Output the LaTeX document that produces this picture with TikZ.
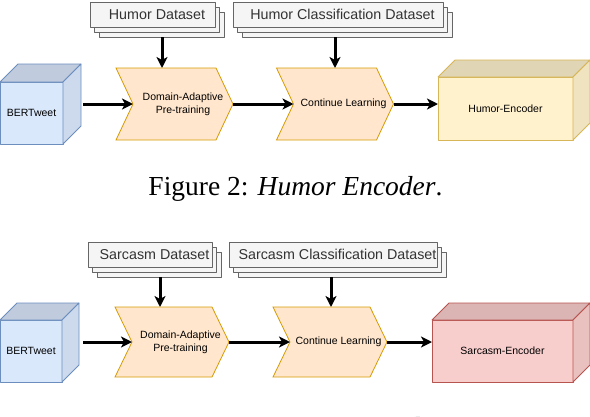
\documentclass[tikz,border=0pt]{standalone}
\usepackage{fontspec}
\setmainfont{Liberation Serif}
\setsansfont{Liberation Sans}
\usetikzlibrary{arrows.meta,positioning,calc,shadows,backgrounds}
\definecolor{dsfill}{HTML}{F5F5F5}
\definecolor{dsline}{HTML}{666666}
\definecolor{dstext}{HTML}{333333}
\definecolor{chfill}{HTML}{FFE6CC}
\definecolor{chline}{HTML}{D79B00}
\definecolor{bfill}{HTML}{DAE8FC}
\definecolor{bline}{HTML}{6C8EBF}
\definecolor{hfill}{HTML}{FFF2CC}
\definecolor{hline}{HTML}{D6B656}
\definecolor{sfill}{HTML}{F8CECC}
\definecolor{sline}{HTML}{B85450}
% chevron outline behind node #1 (node spans notch to tip)
\newcommand{\chevron}[1]{%
  \begin{scope}[on background layer]
    \draw[chline, fill=chfill, line width=0.8pt]
      ($(#1.north west)+(-17,0)$) -- ($(#1.north east)+(-17,0)$) -- (#1.east)
      -- ($(#1.south east)+(-17,0)$) -- ($(#1.south west)+(-17,0)$) -- (#1.west) -- cycle;
  \end{scope}}
% top and side faces of a cuboid node #1, depth #2
\newcommand{\cubefaces}[4]{%
  \draw[#4, fill=#3!88!black, line width=0.8pt] (#1.north west) -- ++(#2,-#2)
    -- ($(#1.north east)+(#2,-#2)$) -- (#1.north east) -- cycle;
  \draw[#4, fill=#3!94!black, line width=0.8pt] (#1.north east) -- ++(#2,-#2)
    -- ($(#1.south east)+(#2,-#2)$) -- (#1.south east) -- cycle;}

\begin{document}
\begin{tikzpicture}[x=1pt, y=-1pt, line join=round,
  dsbox/.style={draw=dsline, fill=dsfill, line width=0.8pt, outer sep=0pt, inner sep=0pt,
    minimum height=25pt, text=dstext, font=\sffamily\fontsize{14.3}{16}\selectfont,
    execute at begin node=\hspace*{9pt},
    copy shadow={shadow xshift=9pt, shadow yshift=-10pt, draw=dsline, fill=dsfill, line width=0.8pt},
    copy shadow={shadow xshift=4.5pt, shadow yshift=-5pt, draw=dsline, fill=dsfill, line width=0.8pt}},
  chev/.style={minimum width=100pt, minimum height=72pt, inner sep=0pt, outer sep=0pt,
    align=center, font=\sffamily\fontsize{10.5}{13}\selectfont},
  cube/.style={line width=0.8pt, inner sep=0pt, outer sep=0pt, font=\sffamily\fontsize{10.5}{13}\selectfont},
  flow/.style={line width=3pt, -{Stealth[length=11pt,width=11pt,inset=3pt]}},
  caption/.style={anchor=base, font=\fontsize{27.5}{30}\selectfont}]
\useasboundingbox (0,0) rectangle (590,416);
\clip (0,0) rectangle (590,416);

% Figure 2: humor encoder
\node[dsbox, minimum width=125pt] (hds) at (152.5,14.5) {Humor Dataset};
\node[dsbox, minimum width=210pt] (hcds) at (338,14.5) {Humor Classification Dataset};
\node[cube, fill=bfill, draw=bline, minimum width=63pt, minimum height=62pt] (bert1) at (31.5,113) {BERTweet};
\cubefaces{bert1}{18}{bfill}{bline}
\node[chev] (dap1) at (183,104) {Domain-Adaptive\\Pre-training};
\chevron{dap1}
\node[chev] (cl1) at (343.5,104) {Continue Learning};
\chevron{cl1}
\node[cube, fill=hfill, draw=hline, minimum width=135pt, minimum height=63pt] (henc) at (505.5,108.5) {Humor-Encoder};
\cubefaces{henc}{17}{hfill}{hline}
\draw[flow, shorten <=10pt] ([xshift=9.5pt]hds.south) -- ([xshift=9.5pt]hds.south |- dap1.north);
\draw[flow, shorten <=10pt] ([xshift=-3pt]hcds.south) -- ([xshift=-3pt]hcds.south |- cl1.north);
\draw[flow, shorten <=20pt] (bert1.east |- dap1.west) -- (dap1.west);
\draw[flow] (dap1.east) -- (cl1.west);
\draw[flow] (cl1.east) -- (cl1.east -| henc.west);
\node[caption] (cap2) at (295.5,195) {Figure 2: \textit{Humor Encoder}.};

% Figure 3: sarcasm encoder
\node[dsbox, minimum width=124pt] (sds) at (150,254.5) {Sarcasm Dataset};
\node[dsbox, minimum width=208pt] (scds) at (333,254.5) {Sarcasm Classification Dataset};
\node[cube, fill=bfill, draw=bline, minimum width=62pt, minimum height=62pt] (bert2) at (31,351) {BERTweet};
\cubefaces{bert2}{17}{bfill}{bline}
\node[chev, minimum width=97pt, minimum height=70pt] (dap2) at (180.5,342) {Domain-Adaptive\\Pre-training};
\chevron{dap2}
\node[chev, minimum width=97pt, minimum height=70pt] (cl2) at (338.5,342) {Continue Learning};
\chevron{cl2}
\node[cube, fill=sfill, draw=sline, minimum width=141pt, minimum height=62pt] (senc) at (502.5,351) {Sarcasm-Encoder};
\cubefaces{senc}{17}{sfill}{sline}
\draw[flow, shorten <=10pt] ([xshift=10pt]sds.south) -- ([xshift=10pt]sds.south |- dap2.north);
\draw[flow, shorten <=10pt] ([xshift=-2pt]scds.south) -- ([xshift=-2pt]scds.south |- cl2.north);
\draw[flow, shorten <=21pt] (bert2.east |- dap2.west) -- (dap2.west);
\draw[flow] (dap2.east) -- (cl2.west);
\draw[flow] (cl2.east) -- (cl2.east -| senc.west);
\node[caption] (cap3) at (295,436) {Figure 3: \textit{Sarcasm Encoder}.};
\end{tikzpicture}
\end{document}
